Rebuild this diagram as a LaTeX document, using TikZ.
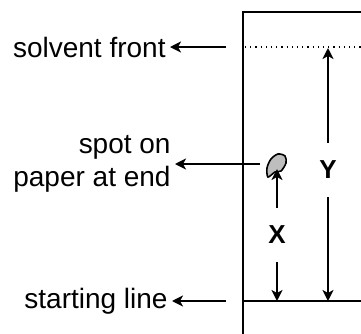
\documentclass[tikz,border=0pt]{standalone}
\usepackage{fontspec}
\setmainfont{Liberation Sans}
\usetikzlibrary{arrows.meta}
\definecolor{spotG}{RGB}{190,190,190}

\begin{document}
\begin{tikzpicture}[x=0.5pt,y=-0.5pt,>={Stealth[length=5.5pt,width=5.5pt,inset=1.5pt]},
  lbl/.style={font=\fontsize{14}{16.5}\selectfont,inner sep=2pt},
  dist/.style={font=\fontsize{13}{15}\selectfont\bfseries,minimum height=27pt,inner sep=0pt}]
\useasboundingbox (0,0) rectangle (361,334);
\clip (0,0) rectangle (361,334);
% paper strip
\draw[line width=1pt] (243,12) rectangle (390,360);
\draw[line width=0.8pt] (243,301) -- (390,301);
\draw[line width=0.6pt,dotted] (245,47) -- (390,47);
% spot
\filldraw[fill=spotG,line width=0.8pt] plot[smooth cycle] coordinates {(268,177) (267,168) (271,159) (278,154) (285,156) (286,163) (281,171) (275,172)};
% labels
\node[lbl,anchor=east] (front) at (170,47) {solvent front};
\node[lbl,anchor=east,align=right] (spotlbl) at (175,164) {spot on\\paper at end};
\node[lbl,anchor=east] (start) at (172,301) {starting line};
\coordinate (frontA) at (226,47);
\coordinate (spotA) at (260,164);
\coordinate (startA) at (226,301);
\draw[->,line width=1pt] (frontA) -- (front);
\draw[->,line width=1pt] (spotA) -- (spotlbl);
\draw[->,line width=1pt] (startA) -- (start);
% distances
\node[dist] (ylab) at (328,170) {Y};
\node[dist] (xlab) at (277,235) {X};
\coordinate (yTop) at (328,48);
\coordinate (yBot) at (328,301);
\coordinate (xTop) at (277,169);
\coordinate (xBot) at (277,301);
\draw[->,line width=1pt] (ylab) -- (yTop);
\draw[->,line width=1pt] (ylab) -- (yBot);
\draw[->,line width=1pt] (xlab) -- (xTop);
\draw[->,line width=1pt] (xlab) -- (xBot);
\end{tikzpicture}
\end{document}
